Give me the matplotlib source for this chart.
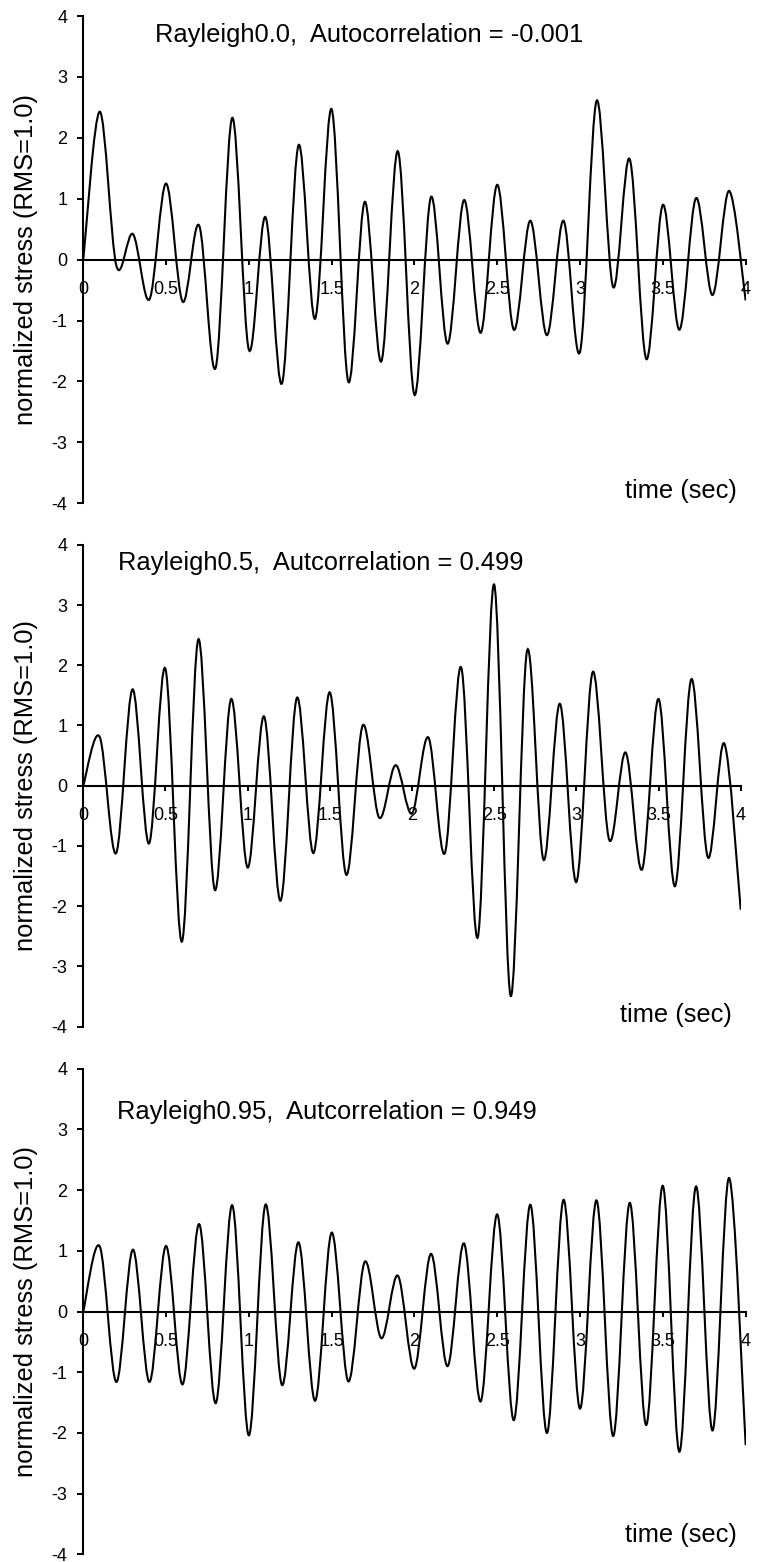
import numpy as np
import matplotlib.pyplot as plt
from matplotlib.path import Path
from matplotlib.patches import PathPatch

plt.rcParams["font.family"] = ["Liberation Sans", "DejaVu Sans"]
plt.rcParams["axes.unicode_minus"] = False

# ---------- DATA (turning points, one every 0.1 s) ----------
time_s = np.round(np.arange(41) * 0.1, 1)

stress_r00 = [0, 2.43, -0.10, 0.42, -0.65, 1.25, -0.69, 0.56, -1.77, 2.33,
              -1.48, 0.70, -2.03, 1.88, -0.97, 2.47, -2.00, 0.95, -1.67, 1.78,
              -2.22, 1.03, -1.38, 0.98, -1.20, 1.23, -1.15, 0.64, -1.24, 0.64,
              -1.51, 2.61, -0.45, 1.65, -1.63, 0.90, -1.15, 1.01, -0.58, 1.13,
              -0.67]
stress_r05 = [0, 0.81, -1.12, 1.60, -0.96, 1.94, -2.59, 2.43, -1.73, 1.44,
              -1.36, 1.15, -1.91, 1.46, -1.12, 1.55, -1.48, 1.00, -0.53, 0.34,
              -0.46, 0.80, -1.12, 1.96, -2.52, 3.34, -3.49, 2.24, -1.23, 1.36,
              -1.60, 1.89, -0.90, 0.55, -1.39, 1.44, -1.67, 1.77, -1.19, 0.70,
              -2.06]
stress_r095 = [0, 1.07, -1.16, 1.02, -1.16, 1.08, -1.20, 1.44, -1.51, 1.75,
               -2.04, 1.76, -1.21, 1.14, -1.47, 1.30, -1.15, 0.82, -0.44, 0.59,
               -0.94, 0.95, -0.90, 1.12, -1.48, 1.60, -1.79, 1.76, -2.00, 1.84,
               -1.60, 1.83, -2.05, 1.79, -1.87, 2.07, -2.31, 2.06, -1.96, 2.20,
               -2.20]

titles = ["Rayleigh0.0,  Autocorrelation = -0.001",
          "Rayleigh0.5,  Autcorrelation = 0.499",
          "Rayleigh0.95,  Autcorrelation = 0.949"]

xtick_vals = [0, 0.5, 1, 1.5, 2, 2.5, 3, 3.5, 4]
xtick_labels = ["0", "0.5", "1", "1.5", "2", "2.5", "3", "3.5", "4"]
ytick_vals = [-4, -3, -2, -1, 0, 1, 2, 3, 4]
ytick_labels = ["-4", "-3", "-2", "-1", "0", "1", "2", "3", "4"]


# ---------- HELPERS ----------
def smooth_path(x, y):
    # spreadsheet-style smoothed line: cubic Bezier through every point
    pts = np.column_stack([x, y]).astype(float)
    padded = np.vstack([pts[0], pts, pts[-1]])
    verts = [pts[0]]
    codes = [Path.MOVETO]
    for i in range(len(pts) - 1):
        p0, p1, p2, p3 = padded[i], padded[i + 1], padded[i + 2], padded[i + 3]
        verts += [p1 + (p2 - p0) / 6, p2 - (p3 - p1) / 6, p2]
        codes += [Path.CURVE4] * 3
    return Path(verts, codes)


# ---------- FIGURE ----------
fig = plt.figure(figsize=(7.57, 15.62), dpi=100)

panels = [
    # axes rect, series, title pos (axes frac), xlabel y (axes frac)
    ([0.110, 0.6778, 0.875, 0.3119], stress_r00, (0.108, 0.961), 0.025),
    ([0.110, 0.3428, 0.8685, 0.3084], stress_r05, (0.053, 0.962), 0.024),
    ([0.110, 0.0049, 0.875, 0.3109], stress_r095, (0.051, 0.911), 0.040),
]

for (rect, series, tpos, xl_y), title in zip(panels, titles):
    ax = fig.add_axes(rect)
    ax.add_patch(PathPatch(smooth_path(time_s, series), fill=False,
                           edgecolor="black", linewidth=1.5, zorder=3))
    ax.set_xlim(0, 4)
    ax.set_ylim(-4, 4)

    ax.spines["top"].set_visible(False)
    ax.spines["right"].set_visible(False)
    ax.spines["bottom"].set_position(("data", 0))
    for s in ("left", "bottom"):
        ax.spines[s].set_linewidth(1.5)

    ax.set_xticks(xtick_vals)
    ax.set_xticklabels(xtick_labels)
    ax.set_yticks(ytick_vals)
    ax.set_yticklabels(ytick_labels)
    ax.tick_params(axis="y", direction="out", length=4.3, width=1.4,
                   labelsize=13, pad=7)
    ax.tick_params(axis="x", direction="out", length=3.6, width=1.4,
                   labelsize=13, pad=12)

    ax.set_ylabel("normalized stress (RMS=1.0)", fontsize=18.4, va="center")
    ax.yaxis.set_label_coords(-0.0865, 0.5)

    ax.text(tpos[0], tpos[1], title, transform=ax.transAxes,
            fontsize=18.4, ha="left", va="center")
    ax.text(0.987, xl_y, "time (sec)", transform=ax.transAxes,
            fontsize=18.4, ha="right", va="center")

fig.savefig("out.png", dpi=100)
